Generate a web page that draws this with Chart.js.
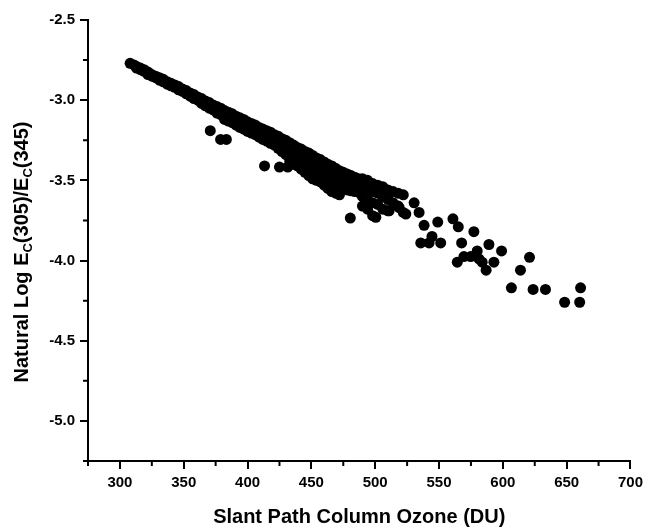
<!DOCTYPE html>
<html lang="en">
<head>
<meta charset="UTF-8" />
<title>Slant Path Column Ozone</title>
<script src="https://cdn.jsdelivr.net/npm/chart.js"></script>
<style>
  body { margin: 0; background: #fff; }
  #wrap { width: 648px; height: 527px; }
</style>
</head>
<body>
<div id="wrap"><canvas id="ozoneChart" width="648" height="527"></canvas></div>
<script>
const bandOzone = [
  308,
  311,
  313, 313,
  316, 316,
  319, 319,
  322, 322,
  325, 325,
  328, 328,
  331, 331,
  334, 334,
  337, 337,
  340, 340,
  343, 343,
  346, 346,
  349, 349,
  352, 352,
  355, 355,
  358, 358,
  361, 361,
  364, 364,
  367, 367,
  370, 370,
  373, 373,
  376, 376,
  379, 379,
  382, 382, 382,
  385, 385, 385,
  388, 388, 388,
  391, 391, 391,
  394, 394, 394,
  397, 397, 397,
  400, 400, 400,
  403, 403, 403,
  406, 406, 406,
  409, 409, 409,
  412, 412, 412,
  415, 415, 415,
  418, 418, 418,
  421, 421, 421,
  424, 424, 424,
  427, 427, 427,
  430, 430, 430,
  433, 433, 433, 433,
  436, 436, 436, 436,
  439, 439, 439, 439,
  442, 442, 442, 442,
  445, 445, 445, 445,
  448, 448, 448, 448,
  451, 451, 451, 451,
  454, 454, 454, 454,
  457, 457, 457, 457,
  460, 460, 460, 460,
  463, 463, 463, 463,
  466, 466, 466, 466,
  469, 469, 469, 469,
  472, 472, 472, 472,
  475, 475, 475,
  478, 478, 478,
  481, 481, 481,
  484, 484, 484,
  487, 487,
  490, 490, 490, 490,
  494, 494, 494, 494,
  498, 498, 498, 498,
  502, 502, 502,
  506, 506, 506,
  510, 510, 510,
  514, 514,
  518, 518,
  522, 522
];
const bandRatio = [
  -2.77,
  -2.78,
  -2.79, -2.80,
  -2.80, -2.81,
  -2.81, -2.82,
  -2.825, -2.84,
  -2.84, -2.85,
  -2.85, -2.86,
  -2.86, -2.875,
  -2.87, -2.885,
  -2.885, -2.90,
  -2.895, -2.91,
  -2.905, -2.92,
  -2.915, -2.935,
  -2.93, -2.945,
  -2.94, -2.96,
  -2.955, -2.975,
  -2.965, -2.99,
  -2.98, -3.00,
  -2.99, -3.02,
  -3.005, -3.035,
  -3.015, -3.05,
  -3.03, -3.06,
  -3.04, -3.08,
  -3.05, -3.09,
  -3.065, -3.10, -3.12,
  -3.075, -3.11, -3.13,
  -3.085, -3.12, -3.14,
  -3.10, -3.13, -3.155,
  -3.11, -3.14, -3.17,
  -3.12, -3.155, -3.18,
  -3.135, -3.17, -3.195,
  -3.145, -3.18, -3.205,
  -3.155, -3.19, -3.215,
  -3.17, -3.20, -3.23,
  -3.18, -3.215, -3.245,
  -3.19, -3.225, -3.255,
  -3.20, -3.235, -3.27,
  -3.215, -3.25, -3.28,
  -3.225, -3.26, -3.30,
  -3.24, -3.275, -3.32,
  -3.25, -3.29, -3.34,
  -3.265, -3.30, -3.35, -3.38,
  -3.28, -3.32, -3.36, -3.40,
  -3.295, -3.33, -3.37, -3.41,
  -3.305, -3.345, -3.39, -3.43,
  -3.32, -3.36, -3.40, -3.45,
  -3.33, -3.37, -3.42, -3.47,
  -3.345, -3.39, -3.44, -3.49,
  -3.36, -3.40, -3.45, -3.50,
  -3.37, -3.415, -3.46, -3.51,
  -3.385, -3.43, -3.475, -3.53,
  -3.40, -3.44, -3.49, -3.55,
  -3.41, -3.455, -3.50, -3.57,
  -3.425, -3.47, -3.52, -3.58,
  -3.44, -3.48, -3.53, -3.59,
  -3.45, -3.50, -3.55,
  -3.46, -3.51, -3.56,
  -3.47, -3.52, -3.565,
  -3.48, -3.53, -3.57,
  -3.49, -3.575,
  -3.49, -3.54, -3.60, -3.66,
  -3.50, -3.55, -3.62, -3.68,
  -3.52, -3.57, -3.64, -3.72,
  -3.53, -3.58, -3.65,
  -3.54, -3.60, -3.68,
  -3.56, -3.62, -3.69,
  -3.57, -3.64,
  -3.58, -3.66,
  -3.59, -3.70
];

// separated points off the band
const looseOzone = [
  370.8, 378.9, 383.4, 413.3, 425, 431.5, 480.5, 500.5, 510.9, 518.8,
  524, 530.5, 534.4, 538.3, 549, 560.9, 565.1, 577.3, 535.7, 542.2,
  544.5, 551.3, 567.7, 579.9, 589.1, 599, 564.3, 569.5, 574.8, 581.3,
  583.8, 593, 586.9, 620.9, 613.8, 606.7, 623.7, 633.4, 648.4, 660.2,
  660.9
];
const looseRatio = [
  -3.19, -3.245, -3.245, -3.41, -3.417, -3.417, -3.735, -3.73, -3.69, -3.67,
  -3.71, -3.64, -3.70, -3.78, -3.76, -3.74, -3.79, -3.82, -3.89, -3.89,
  -3.85, -3.89, -3.89, -3.94, -3.90, -3.94, -4.01, -3.975, -3.975, -3.99,
  -4.01, -4.01, -4.06, -3.98, -4.06, -4.17, -4.18, -4.18, -4.26, -4.26,
  -4.17
];

const xTicks = [300, 350, 400, 450, 500, 550, 600, 650, 700];
const xMinor = [275, 325, 375, 425, 475, 525, 575, 625, 675];
const yTicks = [-5.0, -4.5, -4.0, -3.5, -3.0, -2.5];
const yMinor = [-5.25, -4.75, -4.25, -3.75, -3.25, -2.75];

const FONT = "'Liberation Sans', Arial, Helvetica, sans-serif";

// small outward ticks between the labelled ones
const minorTicks = {
  id: 'minorTicks',
  afterDraw(chart) {
    const { ctx, chartArea, scales: { x, y } } = chart;
    ctx.save();
    ctx.strokeStyle = '#000';
    ctx.lineWidth = 2;
    ctx.beginPath();
    xMinor.forEach(v => {
      const px = x.getPixelForValue(v);
      ctx.moveTo(px, chartArea.bottom);
      ctx.lineTo(px, chartArea.bottom + 5);
    });
    yMinor.forEach(v => {
      const py = y.getPixelForValue(v);
      ctx.moveTo(chartArea.left, py);
      ctx.lineTo(chartArea.left - 5, py);
    });
    ctx.stroke();
    ctx.restore();
  }
};

// y title needs subscripts, so it is drawn by hand
const yTitle = {
  id: 'yTitle',
  afterDraw(chart) {
    const ctx = chart.ctx;
    const parts = [
      ['Natural Log E', false], ['C', true], ['(305)/E', false], ['C', true], ['(345)', false]
    ];
    const big = 'bold 20px ' + FONT;
    const small = 'bold 13px ' + FONT;
    ctx.save();
    let total = 0;
    parts.forEach(([t, sub]) => { ctx.font = sub ? small : big; total += ctx.measureText(t).width; });
    ctx.translate(22, 252);
    ctx.rotate(-Math.PI / 2);
    ctx.fillStyle = '#000';
    ctx.textBaseline = 'alphabetic';
    let pos = -total / 2;
    parts.forEach(([t, sub]) => {
      ctx.font = sub ? small : big;
      ctx.fillText(t, pos, sub ? 10 : 6);
      pos += ctx.measureText(t).width;
    });
    ctx.restore();
  }
};

const ctx = document.getElementById('ozoneChart').getContext('2d');

const pointStyle = {
  backgroundColor: '#000',
  borderWidth: 0,
  pointRadius: 5.5,
  pointHoverRadius: 5.5
};

new Chart(ctx, {
  type: 'scatter',
  data: {
    datasets: [
      Object.assign({ data: bandOzone.map((v, i) => ({ x: v, y: bandRatio[i] })) }, pointStyle),
      Object.assign({ data: looseOzone.map((v, i) => ({ x: v, y: looseRatio[i] })) }, pointStyle)
    ]
  },
  options: {
    responsive: false,
    animation: false,
    layout: { padding: { left: 0, right: 15, top: 20, bottom: 0 } },
    plugins: {
      legend: { display: false },
      tooltip: { enabled: false }
    },
    scales: {
      x: {
        type: 'linear',
        min: 275,
        max: 700,
        afterBuildTicks: s => { s.ticks = xTicks.map(v => ({ value: v })); },
        afterFit: s => { s.height = 66; },
        grid: { display: true, drawOnChartArea: false, drawTicks: true, tickLength: 8, color: '#000', lineWidth: 2 },
        border: { display: true, color: '#000', width: 2 },
        ticks: {
          color: '#000',
          font: { family: FONT, size: 15, weight: 'bold' },
          padding: 5,
          maxRotation: 0,
          autoSkip: false
        },
        title: {
          display: true,
          text: 'Slant Path Column Ozone (DU)',
          color: '#000',
          font: { family: FONT, size: 20, weight: 'bold', lineHeight: 1 },
          padding: { top: 0, bottom: 0 }
        }
      },
      y: {
        type: 'linear',
        min: -5.25,
        max: -2.5,
        afterBuildTicks: s => { s.ticks = yTicks.map(v => ({ value: v })); },
        afterFit: s => { s.width = 88; },
        grid: { display: true, drawOnChartArea: false, drawTicks: true, tickLength: 8, color: '#000', lineWidth: 2 },
        border: { display: true, color: '#000', width: 2 },
        ticks: {
          color: '#000',
          font: { family: FONT, size: 15, weight: 'bold' },
          padding: 5,
          autoSkip: false,
          callback: v => v.toFixed(1)
        }
      }
    }
  },
  plugins: [minorTicks, yTitle]
});
</script>
</body>
</html>
